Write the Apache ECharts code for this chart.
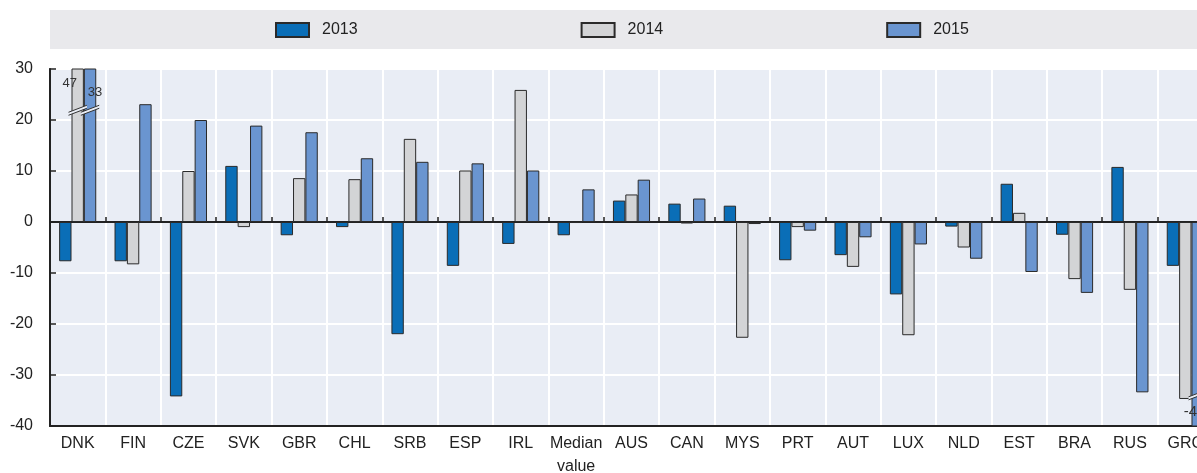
<!DOCTYPE html>
<html>
<head>
<meta charset="utf-8">
<script src="https://cdn.jsdelivr.net/npm/echarts@6/dist/echarts.min.js"></script>
<style>
  html, body { margin: 0; padding: 0; background: #fff; overflow: hidden; }
  /* the plot runs past the right edge of the picture, as in the original */
  #main { width: 1213px; height: 473px; }
</style>
</head>
<body>
<div id="main"></div>
<script>
// categories and series values
const countries = ['DNK', 'FIN', 'CZE', 'SVK', 'GBR', 'CHL', 'SRB', 'ESP', 'IRL', 'Median\nvalue',
  'AUS', 'CAN', 'MYS', 'PRT', 'AUT', 'LUX', 'NLD', 'EST', 'BRA', 'RUS', 'GRC'];
const years = ['2013', '2014', '2015'];
const v2013 = [-7.7, -7.7, -34.2, 11.0, -2.6, -1.0, -22.0, -8.6, -4.3, -2.6,
  4.2, 3.6, 3.2, -7.5, -6.5, -14.2, -0.9, 7.5, -2.5, 10.8, -8.6];
const v2014 = [47, -8.3, 10.0, -1.0, 8.6, 8.4, 16.3, 10.1, 25.9, -0.2,
  5.4, -0.3, -22.7, -1.0, -8.8, -22.2, -5.0, 1.8, -11.2, -13.3, -34.7];
const v2015 = [33, 23.1, 20.0, 18.9, 17.6, 12.5, 11.8, 11.5, 10.1, 6.4,
  8.3, 4.6, -0.4, -1.7, -3.0, -4.4, -7.2, -9.8, -13.9, -33.4, -45];
const yTicks = { min: -40, max: 30, interval: 10 };

// bars that run off the scale: [category index, series slot, break position, label position]
const breaks = [[0, 1, 22.2, 27.2], [0, 2, 22.2, 25.4], [20, 2, -33.6, -37.3]];
const breakLabels = ['47', '33', '-45'];
const breakLabelDx = [-8, 5, -14];
const breakLabelAlign = ['center', 'center', 'left'];
const breakLabelSize = [13, 13, 15];

const colors = ['#0a6eb7', '#d3d4d6', '#6a95d0'];
const font = 'Liberation Sans, Arial, sans-serif';

const chart = echarts.init(document.getElementById('main'));

const barSeries = [v2013, v2014, v2015].map((d, i) => ({
  name: years[i],
  type: 'bar',
  data: d,
  barGap: '0%',
  barCategoryGap: '33%',
  itemStyle: { color: colors[i], borderColor: '#2a2a2a', borderWidth: 1 }
}));

const option = {
  animation: false,
  textStyle: { fontFamily: font },
  graphic: [{
    type: 'rect', left: 50, top: 10, z: -10,
    shape: { width: 1163, height: 39 },
    style: { fill: '#e9e9ec' }
  }],
  legend: {
    data: years,
    left: 275, top: 22,
    padding: 0,
    itemWidth: 33, itemHeight: 14,
    itemGap: 223,
    icon: 'rect',
    textStyle: { fontSize: 16, color: '#222', padding: [0, 0, 0, 8], fontFamily: font }
  },
  grid: {
    left: 50, top: 69, width: 1163, height: 357,
    outerBoundsMode: 'none',
    containLabel: false,
    show: true, backgroundColor: '#e9edf5', borderColor: '#333', borderWidth: 1.5
  },
  xAxis: [{
    type: 'category',
    data: countries,
    position: 'bottom',
    axisLine: { onZero: false, lineStyle: { color: '#222', width: 2 } },
    axisTick: { show: false },
    axisLabel: { interval: 0, color: '#222', fontSize: 16, margin: 6, lineHeight: 23, fontFamily: font },
    splitLine: { show: true, interval: 0, lineStyle: { color: '#fff', width: 2 } }
  }, {
    type: 'category',
    data: countries,
    position: 'top',
    axisLine: { onZero: true, lineStyle: { color: '#222', width: 2 } },
    axisTick: { show: true, interval: 0, length: 5, lineStyle: { color: '#222', width: 1.5 } },
    axisLabel: { show: false, interval: 0 },
    splitLine: { show: false }
  }],
  yAxis: {
    type: 'value',
    min: yTicks.min, max: yTicks.max, interval: yTicks.interval,
    axisLine: { show: true, lineStyle: { color: '#222', width: 2 } },
    axisTick: { show: true, inside: true, length: 6, lineStyle: { color: '#222', width: 1.5 } },
    axisLabel: { color: '#222', fontSize: 16, margin: 17, fontFamily: font },
    splitLine: { show: true, lineStyle: { color: '#fff', width: 2 } }
  },
  series: barSeries.concat([{
    type: 'custom',
    xAxisIndex: 0,
    z: 10,
    silent: true,
    data: breaks,
    encode: { x: 0, y: 2 },
    renderItem: (params, api) => {
      const i = params.dataIndex;
      const cat = api.value(0), slot = api.value(1);
      const base = api.coord([cat, api.value(2)]);
      const bandW = api.size([1, 0])[0];
      const barW = bandW * 0.67 / 3;
      const cx = base[0] + (slot - 1) * barW;
      const y = base[1];
      const h = barW / 2 + 3;
      const p1 = [cx - h, y + 3.5], p2 = [cx + h, y - 3.5];
      const labY = api.coord([cat, api.value(3)])[1];
      return {
        type: 'group',
        children: [
          { type: 'polygon', shape: { points: [p1, p2, [p2[0], p2[1] + 3], [p1[0], p1[1] + 3]] },
            style: { fill: '#e9edf5' } },
          { type: 'line', shape: { x1: p1[0], y1: p1[1], x2: p2[0], y2: p2[1] },
            style: { stroke: '#333', lineWidth: 1 } },
          { type: 'line', shape: { x1: p1[0], y1: p1[1] + 3, x2: p2[0], y2: p2[1] + 3 },
            style: { stroke: '#333', lineWidth: 1 } },
          { type: 'text', x: cx + breakLabelDx[i], y: labY,
            style: { text: breakLabels[i], fill: '#333', fontSize: breakLabelSize[i],
              fontFamily: font, align: breakLabelAlign[i], verticalAlign: 'middle' } }
        ]
      };
    }
  }])
};

chart.setOption(option);
</script>
</body>
</html>
